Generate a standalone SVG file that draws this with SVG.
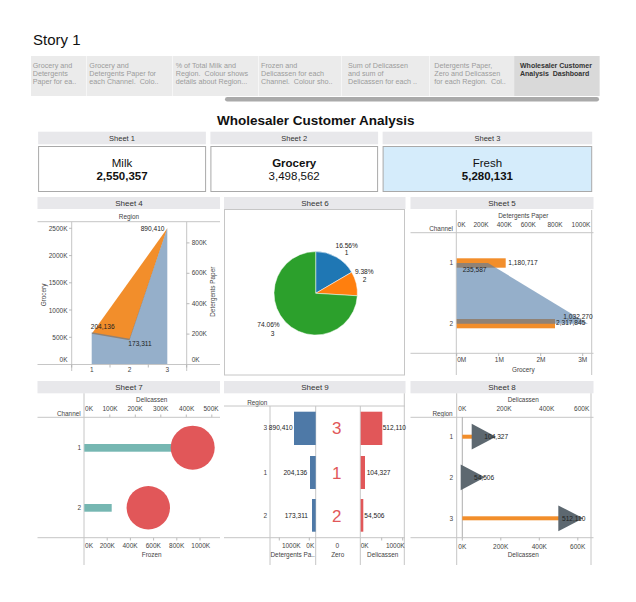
<svg xmlns="http://www.w3.org/2000/svg" width="636" height="602" viewBox="0 0 636 602">
<style>
text{font-family:"Liberation Sans",Arial,sans-serif;white-space:pre}
.tab{font-size:7.2px;fill:#9b9b9b}
.tabA{font-size:7px;fill:#333;font-weight:bold}
.hdr{fill:#e8e8eb}
.ht{font-size:8px;fill:#333;text-anchor:middle}
.ht1{font-size:7.5px;fill:#333;text-anchor:middle}
.box{fill:#fff;stroke:#a9a9a9;stroke-width:1}
.kpi{font-size:11.5px;fill:#111;text-anchor:middle}
.b{font-weight:bold}
.ax{font-size:6.5px;fill:#444}
.at{font-size:6.4px;fill:#444;text-anchor:middle}
.m{text-anchor:middle}
.e{text-anchor:end}
.ln{stroke:#c6c6c6;stroke-width:1;fill:none}
.tk{stroke:#aaa;stroke-width:0.8}
.lbl{font-size:6.6px;fill:#222}
.blueA{fill:#4e79a7;fill-opacity:0.6}
.org{fill:#f28e2b}
.blu{fill:#4e79a7}
.red{fill:#e15759}
.big{font-size:17px;fill:#e15759;text-anchor:middle}
</style>

<g id="story-title">
<text x="33" y="45" font-size="15" fill="#111">Story 1</text>
</g>

<g id="tabs">
<rect x="31" y="56" width="569" height="40" fill="#ebebeb"/>
<rect x="514.3" y="56" width="85" height="40" fill="#d9d9d9"/>
<g stroke="#f6f6f6" stroke-width="1">
<line x1="86.5" y1="56" x2="86.5" y2="96"/>
<line x1="172.5" y1="56" x2="172.5" y2="96"/>
<line x1="258.5" y1="56" x2="258.5" y2="96"/>
<line x1="341.5" y1="56" x2="341.5" y2="96"/>
<line x1="429.5" y1="56" x2="429.5" y2="96"/>
</g>
<text class="tab" x="32.7" y="68.3">Grocery and</text>
<text class="tab" x="32.7" y="76">Detergents</text>
<text class="tab" x="32.7" y="83.7">Paper for ea..</text>
<text class="tab" x="89.3" y="68.3">Grocery and</text>
<text class="tab" x="89.3" y="76">Detergents Paper for</text>
<text class="tab" x="89.3" y="83.7">each Channel.  Colo..</text>
<text class="tab" x="175.7" y="68.3">% of Total Milk and</text>
<text class="tab" x="175.7" y="76">Region.  Colour shows</text>
<text class="tab" x="175.7" y="83.7">details about Region...</text>
<text class="tab" x="261" y="68.3">Frozen and</text>
<text class="tab" x="261" y="76">Delicassen for each</text>
<text class="tab" x="261" y="83.7">Channel.  Colour sho..</text>
<text class="tab" x="348" y="68.3">Sum of Delicassen</text>
<text class="tab" x="348" y="76">and sum of</text>
<text class="tab" x="348" y="83.7">Delicassen for each ..</text>
<text class="tab" x="434.3" y="68.3">Detergents Paper,</text>
<text class="tab" x="434.3" y="76">Zero and Delicassen</text>
<text class="tab" x="434.3" y="83.7">for each Region.  Col..</text>
<text class="tabA" x="520" y="67.8">Wholesaler Customer</text>
<text class="tabA" x="520" y="76">Analysis  Dashboard</text>
<rect x="225" y="97" width="374" height="4.5" rx="2.25" fill="#aaaaaa"/>
</g>

<g id="dashboard-title">
<text x="315.8" y="124.5" font-size="13.5" font-weight="bold" fill="#111" text-anchor="middle">Wholesaler Customer Analysis</text>
</g>

<g id="sheet1">
<rect class="hdr" x="38.1" y="131.7" width="167.8" height="12.6"/>
<text class="ht1" x="122" y="140.8">Sheet 1</text>
<rect class="box" x="38.6" y="146.5" width="167" height="45"/>
<text class="kpi" x="122" y="166.7">Milk</text>
<text class="kpi b" x="122" y="180">2,550,357</text>
</g>
<g id="sheet2">
<rect class="hdr" x="210.4" y="131.7" width="167.7" height="12.6"/>
<text class="ht1" x="294.2" y="140.8">Sheet 2</text>
<rect class="box" x="210.9" y="146.5" width="166.7" height="45"/>
<text class="kpi b" x="294.2" y="166.7">Grocery</text>
<text class="kpi" x="294.2" y="180">3,498,562</text>
</g>
<g id="sheet3">
<rect class="hdr" x="382.6" y="131.7" width="209.6" height="12.6"/>
<text class="ht1" x="487.4" y="140.8">Sheet 3</text>
<rect class="box" x="383.1" y="146.5" width="208.6" height="45" style="fill:#d5ecfb"/>
<text class="kpi" x="487.4" y="166.7">Fresh</text>
<text class="kpi b" x="487.4" y="180">5,280,131</text>
</g>

<g id="sheet4">
<rect class="hdr" x="37.5" y="197" width="182.5" height="12"/>
<text class="ht" x="129" y="205.7">Sheet 4</text>
<text class="at" x="129" y="219.3">Region</text>
<line class="ln" x1="37.5" y1="221.7" x2="220" y2="221.7"/>
<line class="ln" x1="71.7" y1="221.7" x2="71.7" y2="371"/>
<line class="ln" x1="186.7" y1="221.7" x2="186.7" y2="371"/>
<polygon class="org" points="91.7,333.8 167.3,228.3 129.5,340.2"/>
<polygon class="blueA" points="91.7,332.3 129.5,338.7 167.3,228.3 167.3,364.5 91.7,364.5"/>
<line class="ln" x1="37.5" y1="364.5" x2="220" y2="364.5"/>
<g class="tk">
<line x1="69" y1="228.3" x2="71.7" y2="228.3"/><line x1="69" y1="255.6" x2="71.7" y2="255.6"/><line x1="69" y1="282.8" x2="71.7" y2="282.8"/><line x1="69" y1="310" x2="71.7" y2="310"/><line x1="69" y1="337.3" x2="71.7" y2="337.3"/>
<line x1="186.7" y1="242.9" x2="189.5" y2="242.9"/><line x1="186.7" y1="273.3" x2="189.5" y2="273.3"/><line x1="186.7" y1="303.7" x2="189.5" y2="303.7"/><line x1="186.7" y1="334.1" x2="189.5" y2="334.1"/>
<line x1="71.7" y1="364.5" x2="71.7" y2="367.5"/><line x1="110" y1="364.5" x2="110" y2="367.5"/><line x1="148.3" y1="364.5" x2="148.3" y2="367.5"/><line x1="186.7" y1="364.5" x2="186.7" y2="367.5"/>
</g>
<text class="ax e" x="67.5" y="230.6">2500K</text>
<text class="ax e" x="67.5" y="258">2000K</text>
<text class="ax e" x="67.5" y="285.3">1500K</text>
<text class="ax e" x="67.5" y="312.6">1000K</text>
<text class="ax e" x="67.5" y="340">500K</text>
<text class="ax e" x="67.5" y="362.3">0K</text>
<text class="ax" x="191.7" y="244.6">800K</text>
<text class="ax" x="191.7" y="275">600K</text>
<text class="ax" x="191.7" y="305.6">400K</text>
<text class="ax" x="191.7" y="336">200K</text>
<text class="ax" x="191.7" y="362.3">0K</text>
<text class="at" transform="translate(46.3 295) rotate(-90)">Grocery</text>
<text class="at" transform="translate(215 291.7) rotate(-90)">Detergents Paper</text>
<text class="ax m" x="91.7" y="371.5">1</text>
<text class="ax m" x="129.5" y="371.5">2</text>
<text class="ax m" x="167.3" y="371.5">3</text>
<text class="lbl e" x="164.5" y="230.5">890,410</text>
<text class="lbl m" x="102.7" y="329">204,136</text>
<text class="lbl m" x="140" y="346.3">173,311</text>
</g>

<g id="sheet6">
<rect class="hdr" x="224" y="197" width="181.5" height="12"/>
<text class="ht" x="315" y="205.7">Sheet 6</text>
<rect class="ln" x="224.5" y="209.5" width="180" height="165.5"/>
<g stroke="#fff" stroke-width="0.5">
<path d="M315.7,293.3 L315.7,251.6 A41.7,41.7 0 0 1 351.68,272.21 Z" fill="#1f77b4"/>
<path d="M315.7,293.3 L351.68,272.21 A41.7,41.7 0 0 1 357.33,295.77 Z" fill="#ff7f0e"/>
<path d="M315.7,293.3 L357.33,295.77 A41.7,41.7 0 1 1 315.7,251.6 Z" fill="#2ca02c"/>
</g>
<text class="lbl m" x="346.7" y="248">16.56%</text>
<text class="lbl m" x="346.7" y="255">1</text>
<text class="lbl m" x="364.3" y="274">9.38%</text>
<text class="lbl m" x="364.5" y="281.5">2</text>
<text class="lbl m" x="268.5" y="327.3">74.06%</text>
<text class="lbl m" x="272.5" y="335.5">3</text>
</g>

<g id="sheet5">
<rect class="hdr" x="410.5" y="197" width="183" height="12"/>
<text class="ht" x="502" y="205.7">Sheet 5</text>
<text class="at" x="523.3" y="218">Detergents Paper</text>
<text class="ax m" x="461.5" y="226.5">0K</text>
<text class="ax m" x="481" y="226.5">200K</text>
<text class="ax m" x="504.3" y="226.5">400K</text>
<text class="ax m" x="528.3" y="226.5">600K</text>
<text class="ax m" x="555" y="226.5">800K</text>
<text class="ax m" x="581" y="226.5">1000K</text>
<text class="at e" x="453" y="231">Channel</text>
<line class="ln" x1="410.5" y1="232.7" x2="593.5" y2="232.7"/>
<line class="ln" x1="456.3" y1="210" x2="456.3" y2="375"/>
<line class="ln" x1="591.7" y1="210" x2="591.7" y2="375"/>
<rect class="org" x="456.7" y="258.3" width="49" height="9.4"/>
<rect class="org" x="456.7" y="319" width="98.3" height="9.3"/>
<polygon class="blueA" points="456.7,263 488,263 588,323.7 456.7,323.7"/>
<line class="ln" x1="410.5" y1="353.3" x2="593.5" y2="353.3"/>
<g class="tk">
<line x1="456.7" y1="353.3" x2="456.7" y2="356"/><line x1="498.7" y1="353.3" x2="498.7" y2="356"/><line x1="540.7" y1="353.3" x2="540.7" y2="356"/><line x1="582.7" y1="353.3" x2="582.7" y2="356"/>
</g>
<text class="ax m" x="461.7" y="361.5">0M</text>
<text class="ax m" x="499.3" y="361.5">1M</text>
<text class="ax m" x="541" y="361.5">2M</text>
<text class="ax m" x="582.7" y="361.5">3M</text>
<text class="at" x="523.3" y="371.5">Grocery</text>
<text class="ax e" x="453" y="264.5">1</text>
<text class="ax e" x="453" y="326">2</text>
<text class="lbl" x="508.3" y="264.8">1,180,717</text>
<text class="lbl" x="462.7" y="271.5">235,587</text>
<text class="lbl" x="563.3" y="319">1,032,270</text>
<text class="lbl" x="556" y="324.8">2,317,845</text>
</g>

<g id="sheet7">
<rect class="hdr" x="37.5" y="381" width="182.5" height="12.3"/>
<text class="ht" x="129" y="390.3">Sheet 7</text>
<text class="at" x="151.7" y="402.3">Delicassen</text>
<text class="ax m" x="89" y="411.3">0K</text>
<text class="ax m" x="110" y="411.3">100K</text>
<text class="ax m" x="135" y="411.3">200K</text>
<text class="ax m" x="160.7" y="411.3">300K</text>
<text class="ax m" x="186.7" y="411.3">400K</text>
<text class="ax m" x="211" y="411.3">500K</text>
<g class="tk">
<line x1="109.8" y1="414.5" x2="109.8" y2="417.3"/><line x1="135.3" y1="414.5" x2="135.3" y2="417.3"/><line x1="160.8" y1="414.5" x2="160.8" y2="417.3"/><line x1="186.3" y1="414.5" x2="186.3" y2="417.3"/><line x1="211.8" y1="414.5" x2="211.8" y2="417.3"/>
<line x1="107.2" y1="537.7" x2="107.2" y2="540.5"/><line x1="130.4" y1="537.7" x2="130.4" y2="540.5"/><line x1="153.6" y1="537.7" x2="153.6" y2="540.5"/><line x1="176.8" y1="537.7" x2="176.8" y2="540.5"/><line x1="200" y1="537.7" x2="200" y2="540.5"/>
</g>
<text class="at e" x="80.7" y="416.3">Channel</text>
<line class="ln" x1="37.5" y1="417.3" x2="220" y2="417.3"/>
<line class="ln" x1="84" y1="393.3" x2="84" y2="565"/>
<line class="ln" x1="37.5" y1="537.7" x2="220" y2="537.7"/>
<rect x="84.3" y="444" width="95" height="7.7" fill="#76b7b2"/>
<rect x="84.3" y="504" width="27.4" height="7.7" fill="#76b7b2"/>
<circle class="red" cx="192.7" cy="447.7" r="22"/>
<circle class="red" cx="148.3" cy="507.7" r="21.7"/>
<text class="ax e" x="81" y="450">1</text>
<text class="ax e" x="81" y="510">2</text>
<text class="ax m" x="89" y="548">0K</text>
<text class="ax m" x="107.3" y="548">200K</text>
<text class="ax m" x="130" y="548">400K</text>
<text class="ax m" x="153.3" y="548">600K</text>
<text class="ax m" x="176.7" y="548">800K</text>
<text class="ax m" x="200.7" y="548">1000K</text>
<text class="at" x="151.7" y="557.3">Frozen</text>
</g>

<g id="sheet9">
<rect class="hdr" x="224" y="381" width="181.5" height="12.3"/>
<text class="ht" x="315" y="390.3">Sheet 9</text>
<text class="at" x="257.3" y="404.8">Region</text>
<line class="ln" x1="224" y1="406" x2="405" y2="406"/>
<line class="ln" x1="270" y1="406" x2="270" y2="565"/>
<line class="ln" x1="315.7" y1="406" x2="315.7" y2="565"/>
<line class="ln" x1="360.3" y1="406" x2="360.3" y2="565"/>
<line class="ln" x1="404.3" y1="393.3" x2="404.3" y2="565"/>
<line class="ln" x1="224" y1="537.7" x2="405" y2="537.7"/>
<g class="tk">
<line x1="279.3" y1="537.7" x2="279.3" y2="540.5"/><line x1="309.3" y1="537.7" x2="309.3" y2="540.5"/>
<line x1="381.7" y1="537.7" x2="381.7" y2="540.5"/><line x1="402.7" y1="537.7" x2="402.7" y2="540.5"/>
</g>
<text class="ax e" x="267" y="430">3</text>
<text class="ax e" x="267" y="475">1</text>
<text class="ax e" x="267" y="518">2</text>
<rect class="blu" x="294" y="411.7" width="21.7" height="33.3"/>
<rect class="blu" x="310" y="456" width="5.7" height="33"/>
<rect class="blu" x="312" y="499" width="3.7" height="32.7"/>
<text class="lbl e" x="292.7" y="430">890,410</text>
<text class="lbl e" x="307.3" y="475">204,136</text>
<text class="lbl e" x="308" y="518">173,311</text>
<text class="big" x="336.7" y="433.7">3</text>
<text class="big" x="336.7" y="478.7">1</text>
<text class="big" x="336.7" y="521.7">2</text>
<rect class="red" x="360.7" y="411.7" width="21.6" height="33.3"/>
<rect class="red" x="360.7" y="456" width="4.3" height="33"/>
<rect class="red" x="360.7" y="499" width="2.6" height="32.7"/>
<text class="lbl" x="382.7" y="430">512,110</text>
<text class="lbl" x="366.7" y="475">104,327</text>
<text class="lbl" x="364.3" y="518">54,506</text>
<text class="ax m" x="291.3" y="547.8">1000K</text>
<text class="ax m" x="310.3" y="547.8">0K</text>
<text class="ax m" x="337.3" y="547.8">0</text>
<text class="ax m" x="364.7" y="547.8">0K</text>
<text class="ax m" x="395.3" y="547.8">1000K</text>
<text class="at" x="292.7" y="557">Detergents Pa..</text>
<text class="at" x="337.7" y="557">Zero</text>
<text class="at" x="382.7" y="557">Delicassen</text>
</g>

<g id="sheet8">
<rect class="hdr" x="410.5" y="381" width="183" height="12.3"/>
<text class="ht" x="502" y="390.3">Sheet 8</text>
<text class="at" x="523.3" y="402.3">Delicassen</text>
<text class="ax m" x="462.3" y="411.3">0K</text>
<text class="ax m" x="504" y="411.3">200K</text>
<text class="ax m" x="546.7" y="411.3">400K</text>
<text class="ax m" x="581.7" y="411.3">600K</text>
<text class="at e" x="452.7" y="416.3">Region</text>
<line class="ln" x1="410.5" y1="417.3" x2="593.5" y2="417.3"/>
<line class="ln" x1="456.7" y1="393.3" x2="456.7" y2="565"/>
<line class="ln" x1="591" y1="393.3" x2="591" y2="565"/>
<line x1="462.3" y1="417.3" x2="462.3" y2="537.7" stroke="#999" stroke-width="0.8"/>
<line class="ln" x1="410.5" y1="537.7" x2="593.5" y2="537.7"/>
<g class="tk">
<line x1="462.3" y1="537.7" x2="462.3" y2="540.5"/><line x1="500.8" y1="537.7" x2="500.8" y2="540.5"/><line x1="539.3" y1="537.7" x2="539.3" y2="540.5"/><line x1="577.8" y1="537.7" x2="577.8" y2="540.5"/>
</g>
<text class="ax e" x="453" y="439">1</text>
<text class="ax e" x="453" y="479.6">2</text>
<text class="ax e" x="453" y="520.6">3</text>
<rect class="org" x="462.3" y="434.7" width="20" height="4"/>
<rect class="org" x="462.3" y="475.3" width="10.5" height="4"/>
<rect class="org" x="462.3" y="516.3" width="99" height="4"/>
<g fill="#5d6870">
<polygon points="471.7,423.8 471.7,449.6 496,436.7"/>
<polygon points="460.7,464.4 460.7,490.2 485,477.3"/>
<polygon points="558.3,505.4 558.3,531.2 583.3,518.3"/>
</g>
<text class="lbl" x="484.3" y="439">104,327</text>
<text class="lbl" x="474" y="479.6">54,506</text>
<text class="lbl" x="562" y="520.6">512,110</text>
<text class="ax m" x="462.3" y="549">0K</text>
<text class="ax m" x="500.7" y="549">200K</text>
<text class="ax m" x="539.3" y="549">400K</text>
<text class="ax m" x="577.7" y="549">600K</text>
<text class="at" x="523.3" y="557.3">Delicassen</text>
</g>
</svg>
